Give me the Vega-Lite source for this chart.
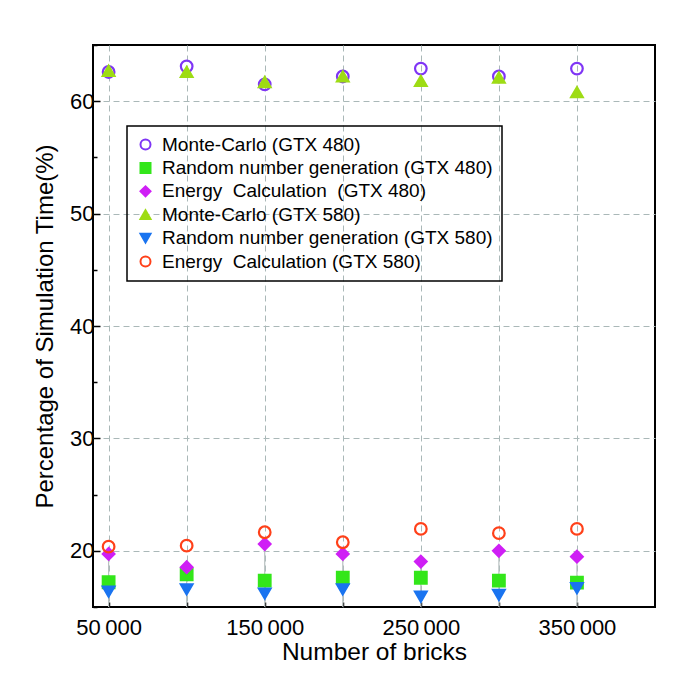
{
  "$schema": "https://vega.github.io/schema/vega-lite/v6.json",
  "autosize": {"type": "none"},
  "width": 562,
  "height": 562,
  "padding": {"left": 93, "top": 45, "right": 28, "bottom": 74},
  "background": "white",
  "config": {
    "font": "Liberation Sans",
    "view": {"stroke": "black", "strokeWidth": 2},
    "axis": {"tickWidth": 1.5, "tickColor": "black"},
    "legend": {"strokeWidth": 1.5}
  },
  "data": {
    "values": [
      {"bricks": 50000, "series": "Monte-Carlo (GTX 480)", "pct": 62.6},
      {"bricks": 100000, "series": "Monte-Carlo (GTX 480)", "pct": 63.1},
      {"bricks": 150000, "series": "Monte-Carlo (GTX 480)", "pct": 61.5},
      {"bricks": 200000, "series": "Monte-Carlo (GTX 480)", "pct": 62.2},
      {"bricks": 250000, "series": "Monte-Carlo (GTX 480)", "pct": 62.9},
      {"bricks": 300000, "series": "Monte-Carlo (GTX 480)", "pct": 62.2},
      {"bricks": 350000, "series": "Monte-Carlo (GTX 480)", "pct": 62.9},
      {"bricks": 50000, "series": "Random number generation (GTX 480)", "pct": 17.2},
      {"bricks": 100000, "series": "Random number generation (GTX 480)", "pct": 17.9},
      {"bricks": 150000, "series": "Random number generation (GTX 480)", "pct": 17.35},
      {"bricks": 200000, "series": "Random number generation (GTX 480)", "pct": 17.6},
      {"bricks": 250000, "series": "Random number generation (GTX 480)", "pct": 17.6},
      {"bricks": 300000, "series": "Random number generation (GTX 480)", "pct": 17.35},
      {"bricks": 350000, "series": "Random number generation (GTX 480)", "pct": 17.17},
      {"bricks": 50000, "series": "Energy  Calculation  (GTX 480)", "pct": 19.72},
      {"bricks": 100000, "series": "Energy  Calculation  (GTX 480)", "pct": 18.54},
      {"bricks": 150000, "series": "Energy  Calculation  (GTX 480)", "pct": 20.6},
      {"bricks": 200000, "series": "Energy  Calculation  (GTX 480)", "pct": 19.72},
      {"bricks": 250000, "series": "Energy  Calculation  (GTX 480)", "pct": 19.04},
      {"bricks": 300000, "series": "Energy  Calculation  (GTX 480)", "pct": 20.0},
      {"bricks": 350000, "series": "Energy  Calculation  (GTX 480)", "pct": 19.48},
      {"bricks": 50000, "series": "Monte-Carlo (GTX 580)", "pct": 62.7},
      {"bricks": 100000, "series": "Monte-Carlo (GTX 580)", "pct": 62.6},
      {"bricks": 150000, "series": "Monte-Carlo (GTX 580)", "pct": 61.7},
      {"bricks": 200000, "series": "Monte-Carlo (GTX 580)", "pct": 62.2},
      {"bricks": 250000, "series": "Monte-Carlo (GTX 580)", "pct": 61.8},
      {"bricks": 300000, "series": "Monte-Carlo (GTX 580)", "pct": 62.1},
      {"bricks": 350000, "series": "Monte-Carlo (GTX 580)", "pct": 60.8},
      {"bricks": 50000, "series": "Random number generation (GTX 580)", "pct": 16.37},
      {"bricks": 100000, "series": "Random number generation (GTX 580)", "pct": 16.57},
      {"bricks": 150000, "series": "Random number generation (GTX 580)", "pct": 16.2},
      {"bricks": 200000, "series": "Random number generation (GTX 580)", "pct": 16.57},
      {"bricks": 250000, "series": "Random number generation (GTX 580)", "pct": 15.92},
      {"bricks": 300000, "series": "Random number generation (GTX 580)", "pct": 16.07},
      {"bricks": 350000, "series": "Random number generation (GTX 580)", "pct": 16.67},
      {"bricks": 50000, "series": "Energy  Calculation (GTX 580)", "pct": 20.37},
      {"bricks": 100000, "series": "Energy  Calculation (GTX 580)", "pct": 20.46},
      {"bricks": 150000, "series": "Energy  Calculation (GTX 580)", "pct": 21.65},
      {"bricks": 200000, "series": "Energy  Calculation (GTX 580)", "pct": 20.76},
      {"bricks": 250000, "series": "Energy  Calculation (GTX 580)", "pct": 21.95},
      {"bricks": 300000, "series": "Energy  Calculation (GTX 580)", "pct": 21.57},
      {"bricks": 350000, "series": "Energy  Calculation (GTX 580)", "pct": 21.95}
    ]
  },
  "layer": [
    {
      "transform": [{"filter": "datum.series === 'Energy  Calculation  (GTX 480)'"}],
      "mark": {"type": "rule", "color": "#b8c0c0", "strokeWidth": 1.2},
      "encoding": {
        "x": {"field": "bricks", "type": "quantitative", "scale": {"domain": [40000, 400000], "nice": false}, "title": "Number of bricks"},
        "y": {"field": "pct", "type": "quantitative", "scale": {"domain": [15, 65], "nice": false, "zero": false}, "title": "Percentage of Simulation Time(%)"},
        "y2": {"datum": 15}
      }
    },
    {
      "mark": {"type": "point", "size": 135, "strokeWidth": 2.2, "opacity": 1},
      "encoding": {
        "x": {
          "field": "bricks", "type": "quantitative",
          "scale": {"domain": [40000, 400000], "nice": false},
          "axis": {
            "title": "Number of bricks",
            "values": [50000, 100000, 150000, 200000, 250000, 300000, 350000],
            "labelExpr": "indexof([50000,150000,250000,350000], datum.value) >= 0 ? replace(format(datum.value, ','), ',', '\u2009') : ''",
            "domain": false,
            "grid": true, "gridColor": "#aab8b8", "gridDash": [6, 4], "gridWidth": 1,
            "ticks": true, "tickSize": -5,
            "labelFontSize": 22, "labelColor": "black", "labelPadding": 15, "labelFont": "Liberation Sans",
            "titleFontSize": 24.5, "titleFontWeight": "normal", "titleColor": "black", "titlePadding": 2, "titleFont": "Liberation Sans"
          }
        },
        "y": {
          "field": "pct", "type": "quantitative",
          "scale": {"domain": [15, 65], "nice": false, "zero": false},
          "axis": {
            "title": "Percentage of Simulation Time(%)",
            "values": [15, 17.5, 20, 22.5, 25, 27.5, 30, 32.5, 35, 37.5, 40, 42.5, 45, 47.5, 50, 52.5, 55, 57.5, 60, 62.5, 65],
            "labelExpr": "datum.value % 10 === 0 ? format(datum.value, 'd') : ''",
            "domain": false,
            "grid": true, "gridColor": "#aab8b8", "gridDash": [6, 4], "gridWidth": 1,
            "gridOpacity": {"condition": {"test": "datum.value % 10 === 0 && datum.value > 15 && datum.value < 65", "value": 1}, "value": 0},
            "ticks": true,
            "tickSize": {"condition": {"test": "datum.value % 10 === 0", "value": -7}, "value": -4},
            "labelFontSize": 22, "labelColor": "black", "labelPadding": 6, "labelFont": "Liberation Sans",
            "titleFontSize": 24, "titleFontWeight": "normal", "titleColor": "black", "titlePadding": 12, "titleFont": "Liberation Sans"
          }
        },
        "shape": {
          "field": "series", "type": "nominal", "title": null,
          "scale": {
            "domain": ["Monte-Carlo (GTX 480)", "Random number generation (GTX 480)", "Energy  Calculation  (GTX 480)", "Monte-Carlo (GTX 580)", "Random number generation (GTX 580)", "Energy  Calculation (GTX 580)"],
            "range": ["circle", "square", "diamond", "triangle-up", "triangle-down", "circle"]
          }
        },
        "stroke": {
          "field": "series", "type": "nominal", "title": null,
          "scale": {
            "domain": ["Monte-Carlo (GTX 480)", "Random number generation (GTX 480)", "Energy  Calculation  (GTX 480)", "Monte-Carlo (GTX 580)", "Random number generation (GTX 580)", "Energy  Calculation (GTX 580)"],
            "range": ["#7f35f5", "#33e61a", "#cf1ff5", "#9edc14", "#1a74f0", "#ff4019"]
          }
        },
        "fill": {
          "field": "series", "type": "nominal", "title": null,
          "scale": {
            "domain": ["Monte-Carlo (GTX 480)", "Random number generation (GTX 480)", "Energy  Calculation  (GTX 480)", "Monte-Carlo (GTX 580)", "Random number generation (GTX 580)", "Energy  Calculation (GTX 580)"],
            "range": ["transparent", "#33e61a", "#cf1ff5", "#9edc14", "#1a74f0", "transparent"]
          },
          "legend": {
            "orient": "none", "legendX": 34, "legendY": 81,
            "labelExpr": "replace(datum.label, /  /g, '\u00a0 ')",
            "strokeColor": "black", "padding": 9,
            "labelFontSize": 19, "labelFont": "Liberation Sans", "labelColor": "black",
            "symbolSize": 100, "symbolStrokeWidth": 2, "rowPadding": 3.4, "labelOffset": 7, "labelLimit": 500
          }
        }
      }
    }
  ]
}
